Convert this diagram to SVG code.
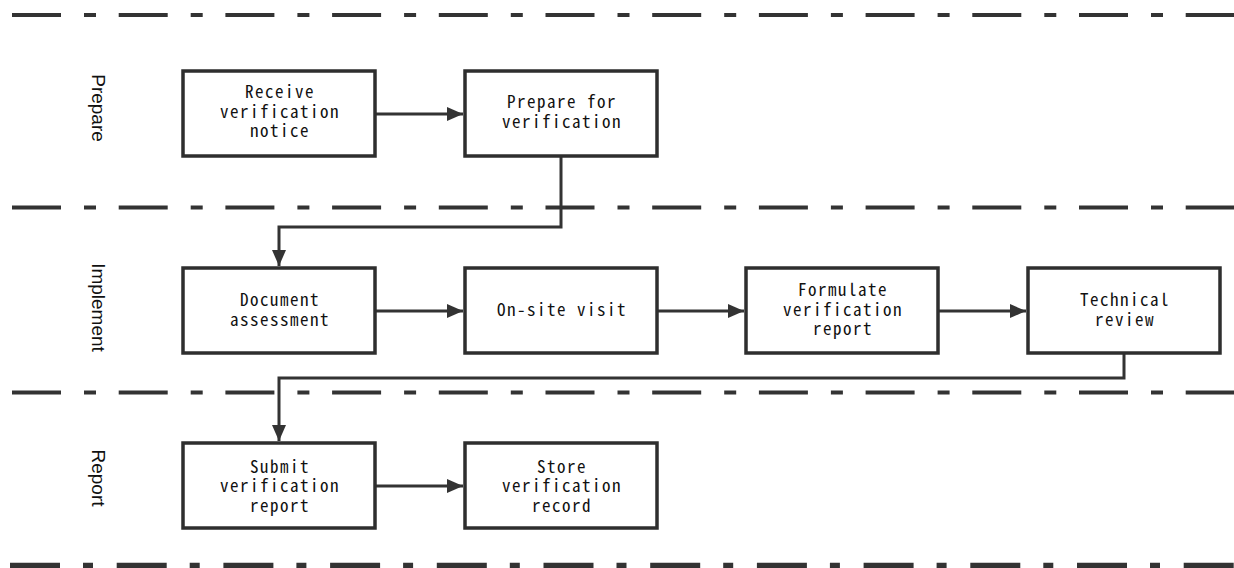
<svg xmlns="http://www.w3.org/2000/svg" width="1234" height="568" viewBox="0 0 1234 568">
<style>
.lane{fill:none;stroke:#333;stroke-width:4;stroke-dasharray:49 23 12 22.7}
.laneb{fill:none;stroke:#333;stroke-width:5.5;stroke-dasharray:50 23 10 23.7}
.box{fill:#fff;stroke:#2e2e2e;stroke-width:3.5}
.t{font-family:"Noto Sans Mono CJK SC","Noto Sans CJK SC",monospace;font-size:17px;letter-spacing:1.5px;fill:#111;text-anchor:middle}
.lbl{font-family:"Liberation Sans",Arial,sans-serif;font-size:19px;fill:#111;text-anchor:middle}
.c{fill:none;stroke:#333;stroke-width:3}
</style>
<defs>
<marker id="arr" markerWidth="16" markerHeight="14" refX="16" refY="7" orient="auto" markerUnits="userSpaceOnUse">
<path d="M0,0 L16,7 L0,14 Z" fill="#333"/>
</marker>
</defs>
<rect width="1234" height="568" fill="#fff"/>
<g id="swimlanes">
<line class="lane" x1="12" y1="15" x2="1234" y2="15"/>
<line class="lane" x1="12" y1="207.5" x2="1234" y2="207.5"/>
<line class="lane" x1="12" y1="392.5" x2="1234" y2="392.5"/>
<line class="laneb" x1="10" y1="565.5" x2="1234" y2="565.5"/>
<text class="lbl" transform="translate(92,108) rotate(90)">Prepare</text>
<text class="lbl" transform="translate(92,307.5) rotate(90)">Implement</text>
<text class="lbl" transform="translate(92,478) rotate(90)">Report</text>
</g>
<g id="connectors">
<line class="c" x1="376" y1="114" x2="463" y2="114" marker-end="url(#arr)"/>
<polyline class="c" points="561,156 561,227 279,227 279,266" marker-end="url(#arr)"/>
<line class="c" x1="376" y1="311" x2="463" y2="311" marker-end="url(#arr)"/>
<line class="c" x1="657" y1="311" x2="744" y2="311" marker-end="url(#arr)"/>
<line class="c" x1="938" y1="311" x2="1026" y2="311" marker-end="url(#arr)"/>
<polyline class="c" points="1124,353 1124,378 279,378 279,441" marker-end="url(#arr)"/>
<line class="c" x1="376" y1="486" x2="463" y2="486" marker-end="url(#arr)"/>
</g>
<g id="n1"><rect class="box" x="183" y="71" width="192" height="85"/>
<text class="t"><tspan x="280" y="98">Receive</tspan><tspan x="280" y="117.5">verification</tspan><tspan x="280" y="137">notice</tspan></text></g>
<g id="n2"><rect class="box" x="465" y="71" width="192" height="85"/>
<text class="t"><tspan x="562" y="108">Prepare for</tspan><tspan x="562" y="127.5">verification</tspan></text></g>
<g id="n3"><rect class="box" x="183" y="268" width="192" height="85"/>
<text class="t"><tspan x="280" y="306">Document</tspan><tspan x="280" y="325.5">assessment</tspan></text></g>
<g id="n4"><rect class="box" x="465" y="268" width="192" height="85"/>
<text class="t" x="562" y="316">On-site visit</text></g>
<g id="n5"><rect class="box" x="746" y="268" width="192" height="85"/>
<text class="t"><tspan x="843" y="296">Formulate</tspan><tspan x="843" y="315.5">verification</tspan><tspan x="843" y="335">report</tspan></text></g>
<g id="n6"><rect class="box" x="1028" y="268" width="192" height="85"/>
<text class="t"><tspan x="1125" y="306">Technical</tspan><tspan x="1125" y="325.5">review</tspan></text></g>
<g id="n7"><rect class="box" x="183" y="443" width="192" height="85"/>
<text class="t"><tspan x="280" y="472.5">Submit</tspan><tspan x="280" y="492">verification</tspan><tspan x="280" y="511.5">report</tspan></text></g>
<g id="n8"><rect class="box" x="465" y="443" width="192" height="85"/>
<text class="t"><tspan x="562" y="472.5">Store</tspan><tspan x="562" y="492">verification</tspan><tspan x="562" y="511.5">record</tspan></text></g>
</svg>
